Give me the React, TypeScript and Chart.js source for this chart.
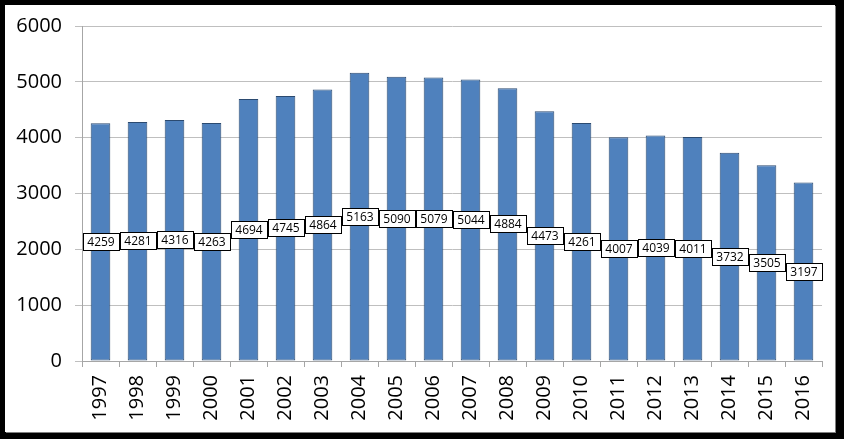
import React, { useEffect, useRef } from "react";
import { Chart, registerables } from "chart.js";

Chart.register(...registerables);

const years = ["1997","1998","1999","2000","2001","2002","2003","2004","2005","2006","2007","2008","2009","2010","2011","2012","2013","2014","2015","2016"];
const values = [4259,4281,4316,4263,4694,4745,4864,5163,5090,5079,5044,4884,4473,4261,4007,4039,4011,3732,3505,3197];
const yTicks = [0,1000,2000,3000,4000,5000,6000];

const FONT = "'Open Sans', 'Liberation Sans', Arial, sans-serif";

const labelPlugin = {
  id: "midLabels",
  afterDatasetsDraw(chart: any) {
    const ctx = chart.ctx;
    const meta = chart.getDatasetMeta(0);
    ctx.save();
    ctx.font = "12px " + FONT;
    ctx.textAlign = "center";
    ctx.textBaseline = "middle";
    meta.data.forEach((bar: any, i: number) => {
      const text = String(values[i]);
      const w = Math.round(ctx.measureText(text).width) + 9;
      const h = 17;
      const cx = Math.round(bar.x);
      const cy = Math.round((bar.y + bar.base) / 2);
      const x0 = cx - Math.round(w / 2) + 0.5;
      const y0 = cy - Math.round(h / 2) + 0.5;
      ctx.fillStyle = "#ffffff";
      ctx.fillRect(x0, y0, w, h);
      ctx.strokeStyle = "#000000";
      ctx.lineWidth = 1;
      ctx.strokeRect(x0, y0, w, h);
      ctx.fillStyle = "#000000";
      ctx.fillText(text, cx, cy + 1);
    });
    ctx.restore();
  },
};

export default function App() {
  const ref = useRef<HTMLCanvasElement | null>(null);
  useEffect(() => {
    document.body.style.margin = "0";
    if (!ref.current) return;
    const chart = new Chart(ref.current, {
      type: "bar",
      data: {
        labels: years,
        datasets: [
          {
            data: values,
            backgroundColor: "#4F81BD",
            borderColor: "#2B4A70",
            borderWidth: 1,
            borderSkipped: false,
            categoryPercentage: 1,
            barPercentage: 0.53,
          },
        ],
      },
      options: {
        animation: false,
        responsive: false,
        maintainAspectRatio: false,
        layout: { padding: { top: 21, right: 13, left: 0, bottom: 0 } },
        plugins: { legend: { display: false }, tooltip: { enabled: false } },
        scales: {
          x: {
            grid: {
              display: true,
              drawOnChartArea: false,
              drawTicks: true,
              tickLength: 6,
              color: "#A6A6A6",
              offset: true,
            },
            border: { display: true, color: "#A6A6A6" },
            ticks: {
              minRotation: 90,
              maxRotation: 90,
              padding: 8,
              color: "#000000",
              font: { size: 20, family: FONT },
              autoSkip: false,
            },
            afterFit: (s: any) => {
              s.height = 71;
              s.paddingTop = 0;
              s.paddingLeft = 0;
              s.paddingRight = 0;
            },
          },
          y: {
            min: 0,
            max: 6000,
            afterBuildTicks: (s: any) => {
              s.ticks = yTicks.map((v) => ({ value: v }));
            },
            grid: { color: "#BFBFBF", tickLength: 7, drawTicks: true },
            border: { display: true, color: "#A6A6A6" },
            ticks: {
              padding: 13,
              color: "#000000",
              font: { size: 20, family: FONT },
              callback: (v: any) => String(v),
            },
            afterFit: (s: any) => {
              s.width = 77;
              s.paddingTop = 0;
              s.paddingBottom = 0;
            },
          },
        },
      },
      plugins: [labelPlugin],
    });
    return () => chart.destroy();
  }, []);
  return (
    <div style={{ position: "relative", width: 844, height: 439, background: "#000" }}>
      <div
        style={{
          position: "absolute",
          left: 5,
          top: 5,
          width: 830,
          height: 427,
          background: "#fff",
          boxShadow: "1px 1px 0 #7f7f7f",
        }}
      >
        <canvas ref={ref} width={830} height={427} style={{ display: "block", width: 830, height: 427 }} />
      </div>
    </div>
  );
}
